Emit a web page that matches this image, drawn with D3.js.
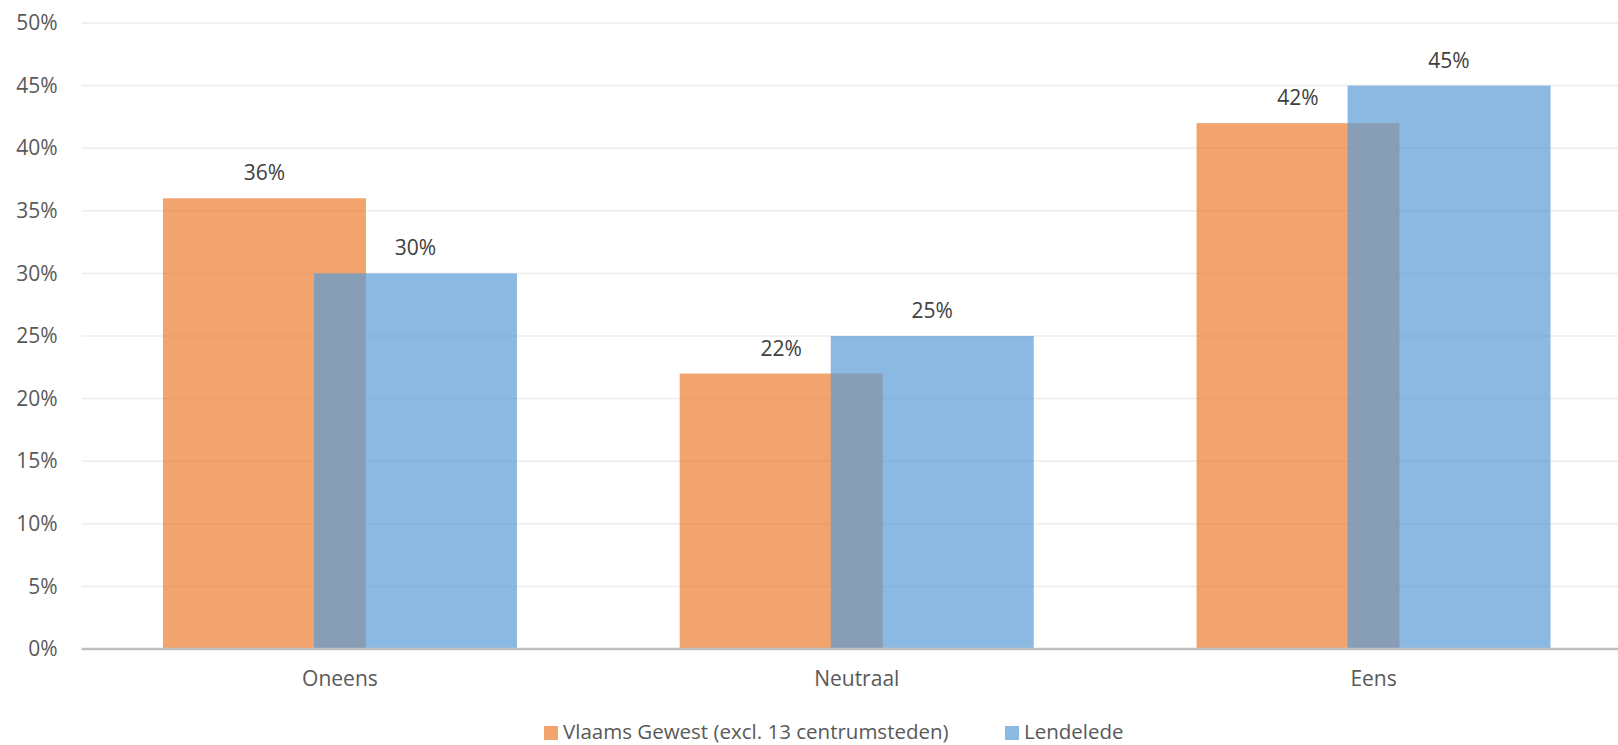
<!DOCTYPE html>
<html>
<head>
<meta charset="utf-8">
<script src="https://cdn.jsdelivr.net/npm/d3@7"></script>
<style>
  html, body { margin: 0; padding: 0; background: #ffffff; }
  svg { display: block; font-family: "Open Sans", "Noto Sans", sans-serif; }
</style>
</head>
<body>
<svg id="chart" width="1618" height="745"></svg>
<script>
const categories = ["Oneens", "Neutraal", "Eens"];
const seriesNames = ["Vlaams Gewest (excl. 13 centrumsteden)", "Lendelede"];
const vlaamsValues = [0.36, 0.22, 0.42];
const lendeledeValues = [0.30, 0.25, 0.45];
const yTicks = [0, 0.05, 0.10, 0.15, 0.20, 0.25, 0.30, 0.35, 0.40, 0.45, 0.50];
const seriesColors = ["#ED7D31", "#5B9BD5"];

(function () {
const svg = d3.select("#chart");
const W = 1618, H = 745;
const plotLeft = 81.5, plotRight = 1632, plotTop = 23, plotBottom = 649;
const fs = "21px";

const y = d3.scaleLinear().domain([0, 0.5]).range([plotBottom, plotTop]);
const x0 = d3.scaleBand().domain(categories).range([plotLeft, plotRight])
  .paddingInner(0.315).paddingOuter(0.1576);
const barW = x0.bandwidth() * 0.5734;
const x1 = d3.scaleLinear().domain([0, 1]).range([0, x0.bandwidth() - barW]);

const fmt = d3.format(".0%");

// gridlines
svg.append("g").selectAll("line").data(yTicks.filter(t => t > 0)).join("line")
  .attr("x1", plotLeft).attr("x2", W)
  .attr("y1", d => y(d)).attr("y2", d => y(d))
  .attr("stroke", "#ececec").attr("stroke-width", 1.5);

// y axis labels
const yAxis = d3.axisLeft(y).tickValues(yTicks).tickFormat(fmt).tickSize(0).tickPadding(24);
const gy = svg.append("g").attr("transform", `translate(${plotLeft},0)`).call(yAxis);
gy.select(".domain").remove();
gy.selectAll("text").attr("fill", "#595959").style("font-size", fs)
  .style("font-family", "'Open Sans', sans-serif");

// bars
const series = [vlaamsValues, lendeledeValues];
series.forEach((vals, si) => {
  svg.append("g").selectAll("rect").data(categories.map((c, i) => ({c, v: vals[i]}))).join("rect")
    .attr("x", d => x0(d.c) + x1(si))
    .attr("y", d => y(d.v))
    .attr("width", barW)
    .attr("height", d => y(0) - y(d.v))
    .attr("fill", seriesColors[si])
    .attr("fill-opacity", 0.7);
});

// data labels
series.forEach((vals, si) => {
  svg.append("g").selectAll("text").data(categories.map((c, i) => ({c, v: vals[i]}))).join("text")
    .attr("x", d => x0(d.c) + x1(si) + barW / 2)
    .attr("y", d => y(d.v) - 18)
    .attr("text-anchor", "middle")
    .attr("fill", "#404040")
    .style("font-size", fs)
    .text(d => fmt(d.v));
});

// x axis
const xAxis = d3.axisBottom(x0).tickSize(0).tickPadding(22);
const gx = svg.append("g").attr("transform", `translate(0,${plotBottom})`).call(xAxis);
gx.select(".domain").remove();
gx.selectAll("text").attr("fill", "#595959").style("font-size", fs)
  .style("font-family", "'Open Sans', sans-serif");
svg.append("line").attr("x1", plotLeft).attr("x2", W).attr("y1", plotBottom).attr("y2", plotBottom)
  .attr("stroke", "#bfbfbf").attr("stroke-width", 2.5);

// legend
const legendItems = [
  {name: seriesNames[0], color: seriesColors[0], x: 544},
  {name: seriesNames[1], color: seriesColors[1], x: 1005}
];
const lg = svg.append("g");
legendItems.forEach(it => {
  lg.append("rect").attr("x", it.x).attr("y", 726).attr("width", 14).attr("height", 14)
    .attr("fill", it.color).attr("fill-opacity", 0.7);
  lg.append("text").attr("x", it.x + 19).attr("y", 739)
    .attr("fill", "#595959").style("font-size", "20.5px").text(it.name);
});
})();
</script>
</body>
</html>
